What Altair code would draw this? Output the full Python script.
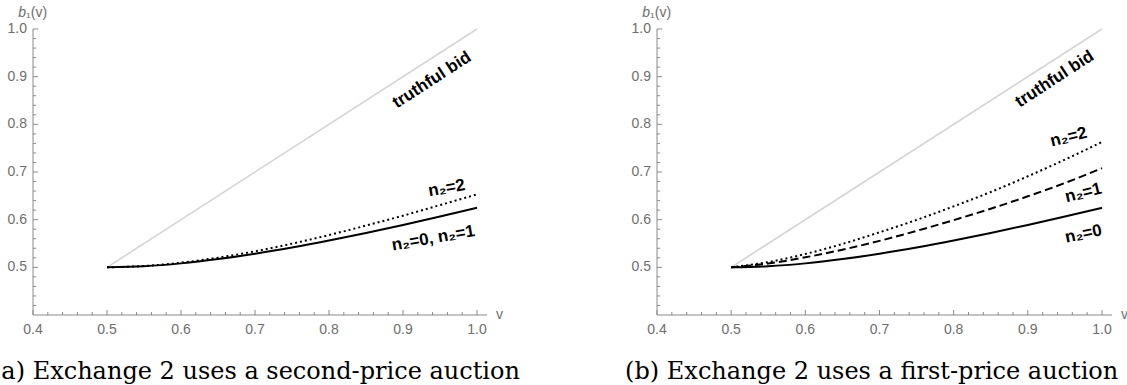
import altair as alt
import pandas as pd

# ---------------- data ----------------
v_grid = [0.50, 0.55, 0.60, 0.65, 0.70, 0.75, 0.80, 0.85, 0.90, 0.95, 1.00]

# (a) second-price auction on exchange 2
a_n0_n1 = [0.5000, 0.5023, 0.5083, 0.5173, 0.5286, 0.5417, 0.5563, 0.5721, 0.5889, 0.6066, 0.6250]
a_n2 = [0.5000, 0.5028, 0.5098, 0.5203, 0.5336, 0.5497, 0.5678, 0.5876, 0.6084, 0.6306, 0.6530]

# (b) first-price auction on exchange 2
b_n0 = [0.5000, 0.5023, 0.5083, 0.5173, 0.5286, 0.5417, 0.5563, 0.5721, 0.5889, 0.6066, 0.6250]
b_n1 = [0.5000, 0.5080, 0.5210, 0.5370, 0.5555, 0.5765, 0.5990, 0.6230, 0.6490, 0.6770, 0.7080]
b_n2 = [0.5000, 0.5110, 0.5280, 0.5490, 0.5735, 0.5995, 0.6280, 0.6580, 0.6910, 0.7260, 0.7630]

truth_v = [0.5, 1.0]
truth_b = [0.5, 1.0]

x_ticks = [0.4, 0.5, 0.6, 0.7, 0.8, 0.9, 1.0]
x_tick_labels = ["0.4", "0.5", "0.6", "0.7", "0.8", "0.9", "1.0"]
y_ticks = [0.5, 0.6, 0.7, 0.8, 0.9, 1.0]
y_tick_labels = ["0.5", "0.6", "0.7", "0.8", "0.9", "1.0"]
minor_ticks = [0.42, 0.44, 0.46, 0.48, 0.52, 0.54, 0.56, 0.58, 0.62, 0.64, 0.66, 0.68,
               0.72, 0.74, 0.76, 0.78, 0.82, 0.84, 0.86, 0.88, 0.92, 0.94, 0.96, 0.98]

# annotation texts and their anchor points (data coordinates)
a_label_text = ["truthful bid", "n₂=2", "n₂=0, n₂=1"]
a_label_x = [0.939, 0.959, 0.941]
a_label_y = [0.893, 0.666, 0.561]
a_label_angle = [327, 350, 350]

b_label_text = ["truthful bid", "n₂=2", "n₂=1", "n₂=0"]
b_label_x = [0.936, 0.955, 0.975, 0.975]
b_label_y = [0.895, 0.773, 0.656, 0.570]
b_label_angle = [327, 346, 346, 348]

captions = ["(a) Exchange 2 uses a second-price auction",
            "(b) Exchange 2 uses a first-price auction"]
caption_x = [0.3446, 0.357]
caption_y = 0.266

X_DOMAIN = [0.4, 1.0]
Y_DOMAIN = [0.4, 1.0]
AXIS_END = 1.0135

LEFT_RANGE = [33, 477]
RIGHT_RANGE = [657, 1102]
Y_RANGE = [315, 29]

AXIS_COLOR = "#8a8a8a"
LABEL_COLOR = "#6e6e6e"


def xs(rng):
    return alt.Scale(domain=X_DOMAIN, range=rng, nice=False, zero=False)


YS = alt.Scale(domain=Y_DOMAIN, range=Y_RANGE, nice=False, zero=False)


def X(rng, f="x"):
    return alt.X(f"{f}:Q", scale=xs(rng), axis=None)


def Y(f="y"):
    return alt.Y(f"{f}:Q", scale=YS, axis=None)


def panel(rng, series, labels, caption, cap_x):
    layers = []
    # axes
    layers.append(
        alt.Chart(pd.DataFrame({"x": [0.4], "x2": [AXIS_END], "y": [0.4]}))
        .mark_rule(color=AXIS_COLOR, strokeWidth=1)
        .encode(x=X(rng), x2="x2:Q", y=Y())
    )
    layers.append(
        alt.Chart(pd.DataFrame({"x": [0.4], "y": [0.4], "y2": [1.0]}))
        .mark_rule(color=AXIS_COLOR, strokeWidth=1)
        .encode(x=X(rng), y=Y(), y2="y2:Q")
    )
    # x ticks
    layers.append(
        alt.Chart(pd.DataFrame({"x": x_ticks, "y": [0.4] * len(x_ticks)}))
        .mark_rule(color=AXIS_COLOR, strokeWidth=1, y2Offset=-5)
        .encode(x=X(rng), y=Y(), y2="y:Q")
    )
    layers.append(
        alt.Chart(pd.DataFrame({"x": minor_ticks, "y": [0.4] * len(minor_ticks)}))
        .mark_rule(color=AXIS_COLOR, strokeWidth=1, y2Offset=-3)
        .encode(x=X(rng), y=Y(), y2="y:Q")
    )
    # y ticks
    layers.append(
        alt.Chart(pd.DataFrame({"y": y_ticks, "x": [0.4] * len(y_ticks)}))
        .mark_rule(color=AXIS_COLOR, strokeWidth=1, x2Offset=5)
        .encode(x=X(rng), x2="x:Q", y=Y())
    )
    layers.append(
        alt.Chart(pd.DataFrame({"y": minor_ticks, "x": [0.4] * len(minor_ticks)}))
        .mark_rule(color=AXIS_COLOR, strokeWidth=1, x2Offset=3)
        .encode(x=X(rng), x2="x:Q", y=Y())
    )
    # tick labels
    layers.append(
        alt.Chart(pd.DataFrame({"x": x_ticks, "y": [0.4] * len(x_ticks), "t": x_tick_labels}))
        .mark_text(font="Liberation Sans", fontSize=14, color=LABEL_COLOR, dy=15,
                   align="center", baseline="middle")
        .encode(x=X(rng), y=Y(), text="t:N")
    )
    layers.append(
        alt.Chart(pd.DataFrame({"y": y_ticks, "x": [0.4] * len(y_ticks), "t": y_tick_labels}))
        .mark_text(font="Liberation Sans", fontSize=14, color=LABEL_COLOR, dx=-6,
                   align="right", baseline="middle")
        .encode(x=X(rng), y=Y(), text="t:N")
    )
    # axis titles
    layers.append(
        alt.Chart(pd.DataFrame({"x": [0.4], "y": [1.0], "t": ["b"]}))
        .mark_text(font="Liberation Sans", fontSize=14, fontStyle="italic", color=LABEL_COLOR,
                   dx=-7, dy=-16, align="right", baseline="middle")
        .encode(x=X(rng), y=Y(), text="t:N")
    )
    layers.append(
        alt.Chart(pd.DataFrame({"x": [0.4], "y": [1.0], "t": ["₁(v)"]}))
        .mark_text(font="Liberation Sans", fontSize=14, color=LABEL_COLOR,
                   dx=-7, dy=-16, align="left", baseline="middle")
        .encode(x=X(rng), y=Y(), text="t:N")
    )
    layers.append(
        alt.Chart(pd.DataFrame({"x": [AXIS_END], "y": [0.4], "t": ["v"]}))
        .mark_text(font="Liberation Sans", fontSize=14, color=LABEL_COLOR,
                   dx=9, dy=0, align="left", baseline="middle")
        .encode(x=X(rng), y=Y(), text="t:N")
    )
    # truthful bid line
    layers.append(
        alt.Chart(pd.DataFrame({"x": truth_v, "y": truth_b}))
        .mark_line(color="#d4d4d4", strokeWidth=1.6)
        .encode(x=X(rng), y=Y())
    )
    # curves
    for vals, dash in series:
        kw = {}
        if dash is not None:
            kw["strokeDash"] = dash
        layers.append(
            alt.Chart(pd.DataFrame({"x": v_grid, "y": vals}))
            .mark_line(color="black", strokeWidth=2, interpolate="monotone", **kw)
            .encode(x=X(rng), y=Y())
        )
    # annotations
    txt, lx, ly, ang = labels
    for t, x0, y0, a in zip(txt, lx, ly, ang):
        layers.append(
            alt.Chart(pd.DataFrame({"x": [x0], "y": [y0], "t": [t]}))
            .mark_text(font="Liberation Sans", fontSize=17, fontWeight="bold", color="black",
                       angle=a, align="center", baseline="middle")
            .encode(x=X(rng), y=Y(), text="t:N")
        )
    # caption
    layers.append(
        alt.Chart(pd.DataFrame({"x": [cap_x], "y": [caption_y], "t": [caption]}))
        .mark_text(font="DejaVu Serif", fontSize=24, color="black",
                   align="left", baseline="alphabetic")
        .encode(x=X(rng), y=Y(), text="t:N")
    )
    return alt.layer(*layers)


left = panel(LEFT_RANGE, [(a_n2, [2, 3]), (a_n0_n1, None)],
             (a_label_text, a_label_x, a_label_y, a_label_angle), captions[0], caption_x[0])
right = panel(RIGHT_RANGE, [(b_n2, [2, 3]), (b_n1, [8, 4]), (b_n0, None)],
              (b_label_text, b_label_x, b_label_y, b_label_angle), captions[1], caption_x[1])

chart = (
    alt.layer(left, right)
    .resolve_scale(x="independent")
    .properties(width=1127, height=385, padding=0, autosize="none", background="white")
    .configure_view(stroke=None)
)

chart.save("out.html", embed_options={"renderer": "svg", "actions": False})
